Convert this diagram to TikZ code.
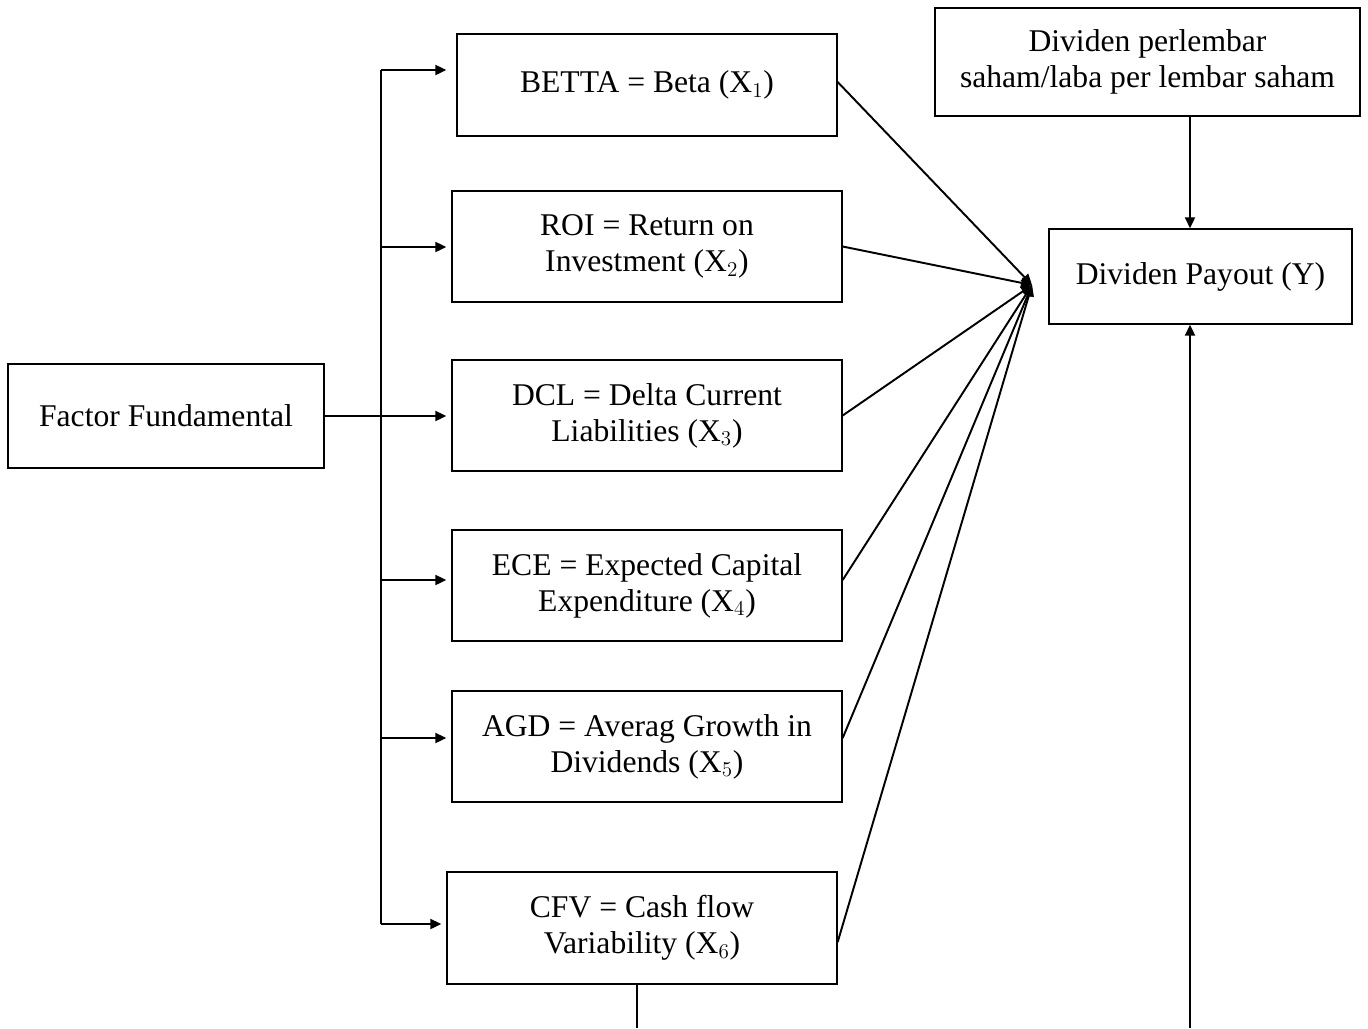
\documentclass[tikz,border=0pt]{standalone}
\usepackage{fontspec}
\setmainfont{Liberation Serif}
\usetikzlibrary{arrows.meta}

\tikzset{
    box/.style={draw, line width=0.8pt, align=center, inner sep=0pt,
        font=\fontsize{18}{20.5}\selectfont},
    arr/.style={-{Triangle[length=2.2mm,width=2mm]}, line width=1.1pt},
    ln/.style={line width=1.1pt},
}

\begin{document}
\begin{tikzpicture}[x=0.02cm, y=-0.02cm]
    \useasboundingbox (0,0) rectangle (1368,1028);

    % Factor
    \node[box, minimum width=6.32cm, minimum height=2.08cm] (fact) at (166,416) {Factor Fundamental};

    % Variables
    \node[box, minimum width=7.6cm, minimum height=2.04cm] (betta) at (647,85) {BETTA = Beta ($\mathrm{X}_1$)};
    \node[box, minimum width=7.8cm, minimum height=2.22cm] (roi) at (647,246.5) {ROI = Return on\\Investment ($\mathrm{X}_2$)};
    \node[box, minimum width=7.8cm, minimum height=2.22cm] (dcl) at (647,415.5) {DCL = Delta Current\\Liabilities ($\mathrm{X}_3$)};
    \node[box, minimum width=7.8cm, minimum height=2.22cm] (ece) at (647,585.5) {ECE = Expected Capital\\Expenditure ($\mathrm{X}_4$)};
    \node[box, minimum width=7.8cm, minimum height=2.22cm] (agd) at (647,746.5) {AGD = Averag Growth in\\Dividends ($\mathrm{X}_5$)};
    \node[box, minimum width=7.8cm, minimum height=2.24cm] (cfv) at (642,928) {CFV = Cash flow\\Variability ($\mathrm{X}_6$)};

    % Dividen
    \node[box, minimum width=8.5cm, minimum height=2.16cm] (dps) at (1147.5,62) {Dividen perlembar\\saham/laba per lembar saham};
    \node[box, minimum width=6.06cm, minimum height=1.9cm] (dpr) at (1200.5,276.5) {Dividen Payout (Y)};

    % Branches
    \coordinate (t1) at (381,70);
    \coordinate (t2) at (381,247);
    \coordinate (t3) at (381,416);
    \coordinate (t4) at (381,580);
    \coordinate (t5) at (381,738);
    \coordinate (t6) at (381,924);
    \draw[ln] (t1) -- (t6);
    \draw[ln] (fact.east) -- (t3);
    \draw[arr, shorten >=0.2cm] (t1) -- (betta.west |- t1);
    \draw[arr, shorten >=0.1cm] (t2) -- (roi.west |- t2);
    \draw[arr, shorten >=0.1cm] (t3) -- (dcl.west |- t3);
    \draw[arr, shorten >=0.1cm] (t4) -- (ece.west |- t4);
    \draw[arr, shorten >=0.1cm] (t5) -- (agd.west |- t5);
    \draw[arr, shorten >=0.1cm] (t6) -- (cfv.west |- t6);

    % To Y
    \coordinate (conv) at (1032,285);
    \draw[arr] ([yshift=0.06cm]betta.east) -- (conv);
    \draw[arr] (roi.east) -- (conv);
    \draw[arr] (dcl.east) -- (conv);
    \draw[arr] (ece.east |- t4) -- (conv);
    \draw[arr] (agd.east |- t5) -- (conv);
    \draw[arr] ([yshift=-0.28cm]cfv.east) -- (conv);

    % Vertical lines
    \coordinate (vy) at (1190,1028);
    \coordinate (cb) at (637,1028);
    \draw[arr] (dps.south -| vy) -- (dpr.north -| vy);
    \draw[arr] (vy) -- (dpr.south -| vy);
    \draw[ln] (cfv.south -| cb) -- (cb);

\end{tikzpicture}
\end{document}
